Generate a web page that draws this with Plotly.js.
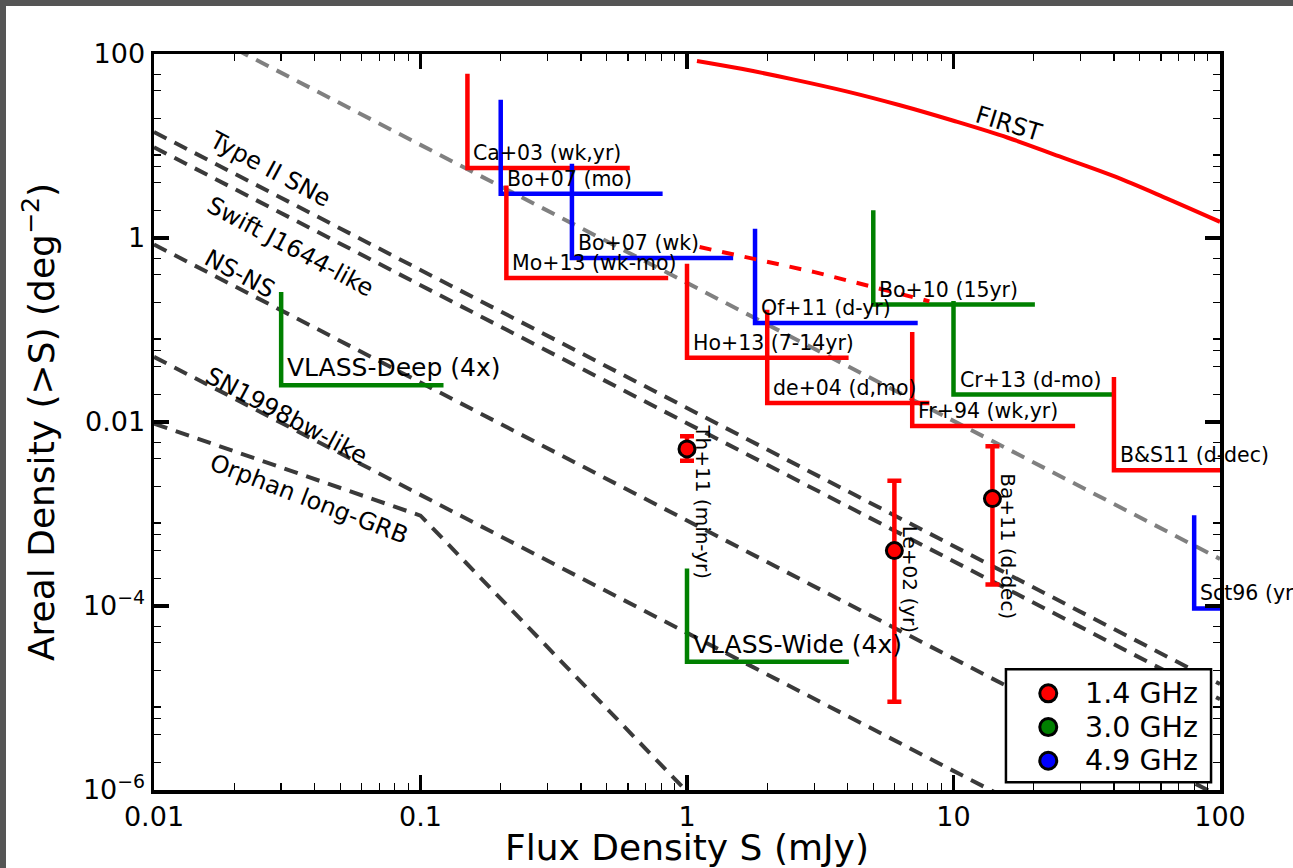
<!DOCTYPE html>
<html>
<head>
<meta charset="utf-8">
<script src="https://cdn.plot.ly/plotly-3.0.1.min.js"></script>
<style>
  html, body { margin: 0; padding: 0; background: #555555; width: 1293px; height: 868px; overflow: hidden; }
  #chart { position: absolute; left: 6px; top: 6px; width: 1287px; height: 862px; background: #ffffff; }
</style>
</head>
<body>
<div id="chart"></div>
<script>
// ---- Axis ticks ----
const xTickVals = [0.01, 0.1, 1, 10, 100];
const xTickText = ['0.01', '0.1', '1', '10', '100'];
const yTickVals = [1e-6, 1e-4, 1e-2, 1, 100];
const yTickText = ['10<sup>−6</sup>', '10<sup>−4</sup>', '0.01', '1', '100'];
const xMinorVals = [];
for (const d of [0.01, 0.1, 1, 10]) for (const k of [2, 3, 4, 5, 6, 7, 8, 9]) xMinorVals.push(k * d);
const yMinorVals = [];
for (const d of [1e-6, 1e-4, 1e-2, 1]) for (const k of [2, 4, 6, 8, 20, 40, 60]) yMinorVals.push(k * d);

// ---- Euclidean source counts (N ∝ S^-1.5) ----
const euclidS = [0.01, 100];
const euclidN = [325, 3.25e-4];

// ---- Transient populations ----
const typeIIS = [0.01, 100];
const typeIIN = [14.2, 1.42e-5];
const swiftS = [0.01, 100];
const swiftN = [9.7, 9.7e-6];
const nsnsS = [0.01, 100];
const nsnsN = [0.85, 8.5e-7];
const sn98S = [0.01, 100];
const sn98N = [0.051, 5.1e-8];
const grbS = [0.01, 0.1, 1];
const grbN = [9.6e-3, 9.6e-4, 9.6e-7];

// ---- FIRST survey curve ----
const firstS = [1.09, 1.6, 2.5, 4.0, 6.3, 10, 16, 25, 40, 63, 100];
const firstN = [84, 69, 53, 39, 27.7, 18.8, 12.3, 7.7, 4.7, 2.7, 1.5];

// ---- Dashed 1.4 GHz extension ----
const dashS = [1.115, 3.01, 8.12];
const dashN = [0.797, 0.426, 0.205];

// ---- Survey limits: flux limit, upper end of marker, areal density, right end ----
const surveyNames = ['Ca+03 (wk,yr)', 'Bo+07 (mo)', 'Mo+13 (wk-mo)', 'Bo+07 (wk)', 'Of+11 (d-yr)',
  'Ho+13 (7-14yr)', 'de+04 (d,mo)', 'Fr+94 (wk,yr)', 'Bo+10 (15yr)', 'Cr+13 (d-mo)',
  'B&amp;S11 (d-dec)', 'Sct96 (yr)', 'VLASS-Deep (4x)', 'VLASS-Wide (4x)'];
const surveyBand = ['1.4', '4.9', '1.4', '4.9', '4.9', '1.4', '1.4', '1.4', '3.0', '3.0', '1.4', '4.9', '3.0', '3.0'];
const surveyS = [0.15, 0.20, 0.21, 0.37, 1.8, 1.0, 2.0, 7.0, 5.0, 10, 40, 80, 0.03, 1.0];
const surveyTop = [61, 31.8, 3.73, 6.42, 1.26, 0.526, 0.166, 0.095, 2.0, 0.206, 0.0308, 9.7e-4, 0.259, 2.56e-4];
const surveyN = [5.75, 3.03, 0.367, 0.605, 0.119, 0.050, 0.0161, 0.00906, 0.189, 0.0199, 0.00299, 9.4e-5, 0.0251, 2.47e-5];
const surveyEnd = [0.61, 0.81, 0.85, 1.49, 7.34, 4.04, 8.12, 28.6, 20.2, 40.1, 200, 200, 0.122, 4.05];

// ---- Detected transient rates with error bars ----
const ptNames = ['Th+11 (min-yr)', 'Le+02 (yr)', 'Ba+11 (d-dec)'];
const ptS = [1.0, 6.0, 14.0];
const ptN = [5.1e-3, 4.0e-4, 1.47e-3];
const ptHi = [7.0e-3, 2.3e-3, 5.45e-3];
const ptLo = [3.8e-3, 9.1e-6, 1.71e-4];

// ---- Legend ----
const bands = ['1.4', '3.0', '4.9'];
const bandLabels = ['1.4 GHz', '3.0 GHz', '4.9 GHz'];

const bandColor = { '1.4': '#ff0000', '3.0': '#008000', '4.9': '#0000ff' };
const darkDash = '#3a3a3a';
const dashPat = '14px,9px';

const traces = [];
function line(x, y, color, width, dash, shape) {
  traces.push({ x, y, type: 'scatter', mode: 'lines', hoverinfo: 'skip', showlegend: false,
    line: { color, width, dash: dash || 'solid', shape: shape || 'linear' } });
}

line(euclidS, euclidN, '#808080', 4, dashPat);
line(typeIIS, typeIIN, darkDash, 4, dashPat);
line(swiftS, swiftN, darkDash, 4, dashPat);
line(nsnsS, nsnsN, darkDash, 4, dashPat);
line(sn98S, sn98N, darkDash, 4, dashPat);
line(grbS, grbN, darkDash, 4, dashPat);
line(firstS, firstN, '#ff0000', 4, 'solid', 'spline');

for (let i = 0; i < surveyS.length; i++) {
  line([surveyS[i], surveyS[i], surveyEnd[i]], [surveyTop[i], surveyN[i], surveyN[i]],
       bandColor[surveyBand[i]], 4.5);
}
line(dashS, dashN, '#ff0000', 4, '12px,11px');

traces.push({
  x: ptS, y: ptN, type: 'scatter', mode: 'markers', hoverinfo: 'skip', showlegend: false,
  marker: { color: '#ff0000', size: 16, line: { color: '#000000', width: 3 } },
  error_y: { type: 'data', symmetric: false,
    array: ptHi.map((v, i) => v - ptN[i]),
    arrayminus: ptLo.map((v, i) => ptN[i] - v),
    color: '#ff0000', thickness: 4.5, width: 7 }
});

const annotations = [];
surveyNames.forEach((t, i) => {
  const big = t.startsWith('VLASS');
  annotations.push({ text: t, x: Math.log10(surveyS[i]), y: Math.log10(surveyN[i]),
    xref: 'x', yref: 'y', showarrow: false, xanchor: 'left', yanchor: 'bottom',
    xshift: 4, yshift: 1, font: { size: big ? 25 : 20.5 } });
});
ptNames.forEach((t, i) => {
  annotations.push({ text: t, x: Math.log10(ptS[i]), y: Math.log10(ptN[i]),
    xref: 'x', yref: 'y', showarrow: false, xanchor: 'left', yanchor: 'top',
    textangle: 90, xshift: 2, yshift: 27, font: { size: 20 } });
});
const lineLabels = [
  { text: 'Type II SNe', x: -1.565, y: 0.745, a: 28 },
  { text: 'Swift J1644-like', x: -1.487, y: -0.099, a: 28 },
  { text: 'NS-NS', x: -1.678, y: -0.395, a: 28 },
  { text: 'SN1998bw-like', x: -1.502, y: -1.934, a: 28 },
  { text: 'Orphan long-GRB', x: -1.419, y: -2.839, a: 21 },
  { text: 'FIRST', x: 1.210, y: 1.242, a: 17 }
];
lineLabels.forEach(l => annotations.push({ text: l.text, x: l.x, y: l.y, xref: 'x', yref: 'y',
  showarrow: false, xanchor: 'center', yanchor: 'middle', textangle: l.a, font: { size: 24 } }));

// Legend box in the lower-right corner of the axes
const legendBox = { x0: 0.7992, x1: 0.9916, y0: 0.0105, y1: 0.1639 };
const legendRowY = [0.1313, 0.0855, 0.0398];
const legendMarkX = 0.8389, legendTextX = 0.8712;
const shapes = [{ type: 'rect', xref: 'paper', yref: 'paper', layer: 'above',
  x0: legendBox.x0, x1: legendBox.x1, y0: legendBox.y0, y1: legendBox.y1,
  fillcolor: '#ffffff', line: { color: '#000000', width: 2.5 } }];
bands.forEach((b, i) => {
  shapes.push({ type: 'circle', xref: 'paper', yref: 'paper', layer: 'above',
    xsizemode: 'pixel', ysizemode: 'pixel', xanchor: legendMarkX, yanchor: legendRowY[i],
    x0: -8.5, x1: 8.5, y0: -8.5, y1: 8.5,
    fillcolor: bandColor[b], line: { color: '#000000', width: 3 } });
  annotations.push({ text: bandLabels[i], xref: 'paper', yref: 'paper', x: legendTextX, y: legendRowY[i],
    xanchor: 'left', yanchor: 'middle', showarrow: false, font: { size: 28.5 } });
});

const axisCommon = {
  type: 'log', showgrid: false, zeroline: false, showline: true, linecolor: '#000000',
  linewidth: 3.5, mirror: 'allticks', ticks: 'inside', ticklen: 15, tickwidth: 3.5,
  tickcolor: '#000000', tickmode: 'array', tickfont: { size: 27, color: '#000000' }
};

const layout = {
  width: 1287, height: 862,
  margin: { l: 148, r: 73, t: 47.5, b: 78 },
  paper_bgcolor: '#ffffff', plot_bgcolor: '#ffffff',
  font: { family: 'DejaVu Sans', color: '#000000' },
  xaxis: Object.assign({}, axisCommon, {
    range: [-2, 2], tickvals: xTickVals, ticktext: xTickText,
    minor: { ticks: 'inside', ticklen: 7, tickwidth: 1.3, tickcolor: '#000000', tickmode: 'array', tickvals: xMinorVals, showgrid: false },
    title: { text: 'Flux Density S (mJy)', font: { size: 36 }, standoff: 8 }
  }),
  yaxis: Object.assign({}, axisCommon, {
    range: [-6, 2], tickvals: yTickVals, ticktext: yTickText,
    minor: { ticks: 'inside', ticklen: 7, tickwidth: 1.3, tickcolor: '#000000', tickmode: 'array', tickvals: yMinorVals, showgrid: false },
    title: { text: 'Areal Density (&gt;S) (deg<sup>−2</sup>)', font: { size: 36 }, standoff: 18 }
  }),
  showlegend: false,
  shapes,
  annotations
};

Plotly.newPlot('chart', traces, layout, { staticPlot: true, displayModeBar: false });
</script>
</body>
</html>
